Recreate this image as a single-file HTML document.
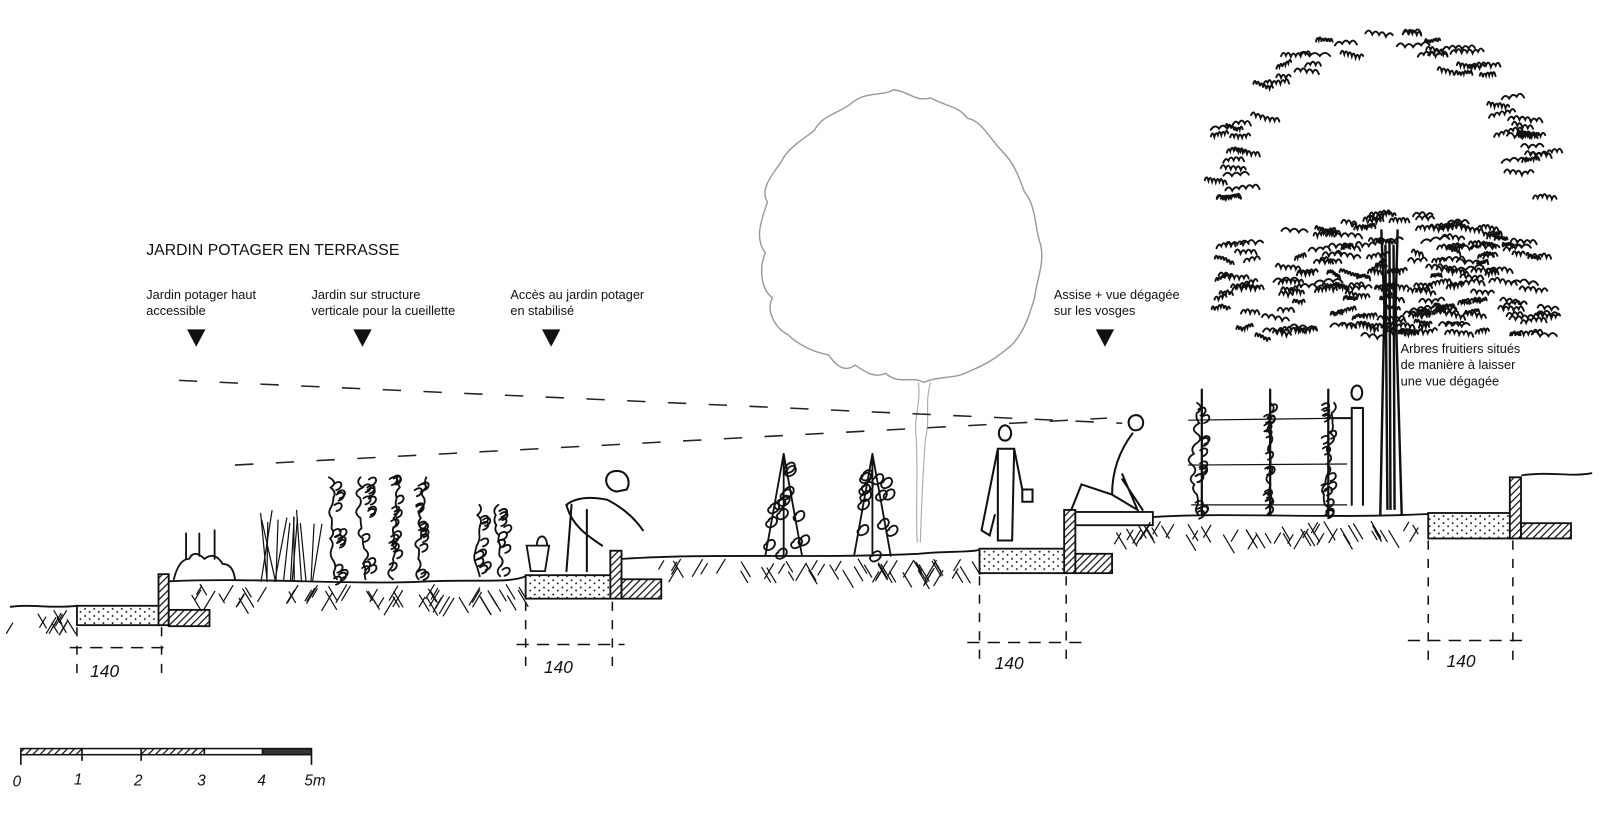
<!DOCTYPE html>
<html><head><meta charset="utf-8"><style>
html,body{margin:0;padding:0;background:#fff;width:1600px;height:822px;overflow:hidden}
svg{display:block}
text{font-family:"Liberation Sans",Arial,sans-serif;fill:#111}
.hand{font-family:"Liberation Sans",sans-serif;font-style:italic}
</style></head><body>
<svg id="s" width="1600" height="822" viewBox="0 0 1568 806" xmlns="http://www.w3.org/2000/svg">
<defs>
<pattern id="hatch" width="5" height="5" patternUnits="userSpaceOnUse" patternTransform="rotate(45)"><rect width="5" height="5" fill="#fff"/><line x1="0" y1="0" x2="0" y2="5" stroke="#111" stroke-width="2.4"/></pattern>
<pattern id="dots" width="9" height="7" patternUnits="userSpaceOnUse"><rect width="9" height="7" fill="#fff"/><circle cx="2" cy="2" r="0.9" fill="#111"/><circle cx="6.5" cy="5" r="0.9" fill="#111"/></pattern>
</defs>
<g id="ground" fill="none" stroke="#111" stroke-width="1.8" stroke-linecap="round"></g>

<!-- grey tree -->
<path d="M905,375 C895,368 880,378 868,366 C855,372 845,362 838,358 C825,368 815,352 812,348 C795,345 780,336 772,328 C760,322 750,305 757,292 C745,283 744,262 750,248 C738,232 748,212 752,198 C744,185 758,170 766,158 C772,145 788,136 798,128 C806,112 822,112 836,100 C848,90 866,94 876,88 C892,90 896,100 912,96 C926,104 940,104 948,116 C962,118 970,136 982,148 C994,160 998,172 1004,188 C1016,202 1014,224 1020,240 C1024,258 1016,275 1014,292 C1008,312 1004,324 992,338 C980,348 970,356 950,364 C936,372 922,368 905,375 Z" fill="none" stroke="#999" stroke-width="1.4"/>
<path d="M900,375 C903,395 895,410 898,430 C900,470 897,500 899,532 M912,375 C906,395 912,410 907,430 C904,470 903,500 902,532" fill="none" stroke="#aaa" stroke-width="1.1"/>

<line x1="175" y1="373" x2="1100" y2="415" stroke="#222" stroke-width="1.5" stroke-dasharray="18,22"/>
<line x1="230" y1="456" x2="1085" y2="410" stroke="#222" stroke-width="1.5" stroke-dasharray="18,22"/>

<path d="M1354,225 L1357,300 L1355,400 L1353,505 M1370,225 L1368,300 L1371,400 L1374,505 M1362,235 L1363,500 M1358,240 L1360,500 M1366,240 L1367,500" fill="none" stroke="#111" stroke-width="2.4"/>
<g id="fol" fill="none" stroke="#111" stroke-width="1.9" stroke-linecap="round"></g>
<g id="pl" fill="none" stroke="#111" stroke-width="1.8" stroke-linecap="round"></g>

<text x="143" y="250" font-size="15.5">JARDIN POTAGER EN TERRASSE</text>
<text x="143" y="293" font-size="12.5">Jardin potager haut</text>
<text x="143" y="309" font-size="12.5">accessible</text>
<text x="305" y="293" font-size="12.5">Jardin sur structure</text>
<text x="305" y="309" font-size="12.5">verticale pour la cueillette</text>
<text x="500" y="293" font-size="12.5">Accès au jardin potager</text>
<text x="500" y="309" font-size="12.5">en stabilisé</text>
<text x="1033" y="293" font-size="12.5">Assise + vue dégagée</text>
<text x="1033" y="309" font-size="12.5">sur les vosges</text>
<text x="1373" y="346" font-size="12.5">Arbres fruitiers situés</text>
<text x="1373" y="362" font-size="12.5">de manière à laisser</text>
<text x="1373" y="378" font-size="12.5">une vue dégagée</text>
<g fill="#111">
<polygon points="183,323 201,323 192,340"/>
<polygon points="346,323 364,323 355,340"/>
<polygon points="531,323 549,323 540,340"/>
<polygon points="1074,323 1092,323 1083,340"/>
</g>

<g stroke="#111" stroke-width="1.5" fill="none">
<line x1="75" y1="615" x2="75" y2="668" stroke-dasharray="9,9"/><line x1="158" y1="615" x2="158" y2="660" stroke-dasharray="9,9"/>
<line x1="68" y1="635" x2="165" y2="635" stroke-dasharray="12,8"/>
<line x1="515" y1="590" x2="515" y2="660" stroke-dasharray="9,9"/><line x1="600" y1="590" x2="600" y2="660" stroke-dasharray="9,9"/>
<line x1="506" y1="632" x2="612" y2="632" stroke-dasharray="12,8"/>
<line x1="960" y1="565" x2="960" y2="655" stroke-dasharray="9,9"/><line x1="1045" y1="565" x2="1045" y2="655" stroke-dasharray="9,9"/>
<line x1="948" y1="630" x2="1060" y2="630" stroke-dasharray="12,8"/>
<line x1="1400" y1="530" x2="1400" y2="650" stroke-dasharray="9,9"/><line x1="1483" y1="530" x2="1483" y2="650" stroke-dasharray="9,9"/>
<line x1="1380" y1="628" x2="1498" y2="628" stroke-dasharray="12,8"/>
</g>
<text class="hand" x="88" y="664" font-size="17">140</text>
<text class="hand" x="533" y="660" font-size="17">140</text>
<text class="hand" x="975" y="656" font-size="17">140</text>
<text class="hand" x="1418" y="654" font-size="17">140</text>

<rect x="20" y="734" width="60" height="6" fill="url(#hatch)" stroke="#111" stroke-width="1.5"/>
<rect x="80" y="734" width="58" height="6" fill="#fff" stroke="#111" stroke-width="1.5"/>
<rect x="138" y="734" width="62" height="6" fill="url(#hatch)" stroke="#111" stroke-width="1.5"/>
<rect x="200" y="734" width="57" height="6" fill="#fff" stroke="#111" stroke-width="1.5"/>
<rect x="257" y="734" width="48" height="6" fill="#333" stroke="#111" stroke-width="1.5"/>
<g stroke="#111" stroke-width="1.6"><line x1="20" y1="740" x2="20" y2="750"/><line x1="80" y1="740" x2="80" y2="746"/><line x1="138" y1="740" x2="138" y2="746"/><line x1="305" y1="740" x2="305" y2="750"/></g>
<g class="hand" font-size="15"><text x="12" y="771">0</text><text x="72" y="769">1</text><text x="131" y="770">2</text><text x="193" y="770">3</text><text x="252" y="770">4</text><text x="298" y="770">5m</text></g>
</svg>
<script>
var NS="http://www.w3.org/2000/svg";
var seed=7;function r(){seed=(seed*16807)%2147483647;return seed/2147483647;}
function P(g,d,extra){var p=document.createElementNS(NS,"path");p.setAttribute("d",d);if(extra)for(var k in extra)p.setAttribute(k,extra[k]);document.getElementById(g).appendChild(p);return p;}
function R(x,y,w,h,fill){var e=document.createElementNS(NS,"rect");e.setAttribute("x",x);e.setAttribute("y",y);e.setAttribute("width",w);e.setAttribute("height",h);e.setAttribute("fill",fill);e.setAttribute("stroke","#111");e.setAttribute("stroke-width","1.8");document.getElementById("ground").appendChild(e);}
P("ground","M10,595 C30,592 50,597 75,594");
P("ground","M165,570 C250,566 350,574 420,570 C470,568 500,572 515,565");
P("ground","M610,548 C700,542 800,548 900,543 C930,540 950,542 960,539");
P("ground","M1130,507 C1200,502 1300,509 1400,504");
P("ground","M1492,466 C1520,462 1540,468 1560,464");
R(75,594,83,19,"url(#dots)");R(155,563,10,50,"url(#hatch)");R(165,598,40,16,"url(#hatch)");
R(515,564,85,23,"url(#dots)");R(598,540,11,47,"url(#hatch)");R(609,568,39,19,"url(#hatch)");
R(960,538,85,24,"url(#dots)");R(1043,500,11,62,"url(#hatch)");R(1054,543,36,19,"url(#hatch)");
R(1054,502,76,13,"#fff");
R(1400,503,83,25,"url(#dots)");R(1480,468,11,60,"url(#hatch)");R(1491,513,49,15,"url(#hatch)");
function hatch(x0,x1,y,n){for(var i=0;i<n;i++){var x=x0+r()*(x1-x0),yy=y+3+r()*14,a=r()<0.5?-1:1,l=8+r()*10;P("ground","M"+x.toFixed(1)+","+yy.toFixed(1)+" l"+(a*l*0.6).toFixed(1)+","+(l).toFixed(1),{"stroke-width":"1.2"});}}
hatch(12,70,595,14);hatch(170,510,570,60);hatch(650,955,545,55);hatch(1090,1395,508,55);
function scrib(x,y,w){var d="M"+x.toFixed(1)+","+y.toFixed(1);var n=3+Math.floor(r()*4);for(var i=0;i<n;i++){d+=" q"+(w/n/2).toFixed(1)+","+(-6).toFixed(1)+" "+(w/n).toFixed(1)+","+(r()*4-2).toFixed(1);}P("fol",d);}
for(var i=0;i<60;i++){var t=Math.PI*(0.95+r()*1.1),rx=165*(0.8+r()*0.2),ry=150*(0.8+r()*0.2);var x=1340+Math.cos(t)*rx,y=175+Math.sin(t)*ry;if(y>330)continue;scrib(x,y,14+r()*20);}
for(var i=0;i<260;i++){var x=1180+r()*330,y=205+r()*125;var dx=(x-1355)/170;if(Math.abs(dx)>1)continue;if(y<205+Math.abs(dx)*35)continue;if(x<1290&&r()<0.45)continue;scrib(x,y,10+r()*18);}
function vine(x,yb,h){var d="M"+x+","+yb;for(var y=yb;y>yb-h;y-=10){d+=" q"+(r()*16-8).toFixed(1)+",-5 "+(r()*6-3).toFixed(1)+",-10";}P("pl",d);for(var k=0;k<h/8;k++){var yy=yb-r()*h;P("pl","M"+(x+r()*8-4).toFixed(1)+","+yy.toFixed(1)+" c8,-6 10,4 2,6");}}
[330,358,385,410].forEach(function(x){vine(x,568,100);});
[470,490].forEach(function(x){vine(x,565,65);});
for(var i=0;i<14;i++){var x=250+i*4;P("pl","M"+(x+r()*8)+",570 L"+(x-10+r()*30).toFixed(1)+","+(500+r()*15).toFixed(1),{"stroke-width":"1.2"});}
P("pl","M170,568 q5,-20 15,-20 q5,-10 15,0 q10,-8 18,5 q10,0 12,15");
P("pl","M182,548 l0,-25 M195,545 l0,-22 M210,548 l0,-28");
function tri(x,yb,h){P("pl","M"+(x-18)+","+yb+" L"+x+","+(yb-h)+" L"+(x+18)+","+yb+" M"+x+","+yb+" L"+x+","+(yb-h));for(var k=0;k<14;k++){var yy=yb-r()*h*0.9,xx=x+(r()*34-17);P("pl","M"+xx.toFixed(1)+","+yy.toFixed(1)+" c8,-8 12,4 3,7 c-5,2 -8,-4 -3,-6");}}
tri(768,545,100);tri(855,545,100);
[1178,1245,1302].forEach(function(x){P("pl","M"+x+",505 L"+x+",382",{"stroke-width":"2.2"});vine(x-3,505,110);});
P("pl","M1165,412 L1320,410 M1165,456 L1320,455 M1168,495 L1320,495",{"stroke-width":"1.2"});
P("pl","M590,535 c-15,-10 -30,-20 -35,-40 c10,-8 25,-8 40,-5 c10,5 25,15 35,30 M560,495 l-5,65 M575,500 l0,60 M604,482 c-12,-2 -14,-18 -2,-20 c12,-2 17,10 12,18 z",{"stroke-width":"2"});
P("pl","M520,560 l-4,-25 l22,0 l-4,25 z M526,535 c0,-12 10,-12 10,0");
P("pl","M985,432 c-8,0 -8,-14 0,-15 c8,1 8,15 0,15 M978,440 l-8,40 M994,440 l8,40 M978,440 l16,0 l-2,90 l-14,0 z M970,480 l-8,40 l8,5 l5,-20 M1002,480 l0,12 l10,0 l0,-12 z",{"stroke-width":"2"});
P("pl","M1113,422 c-8,0 -10,-14 0,-15 c10,0 10,15 0,15 M1110,425 c-15,20 -20,40 -20,60 l-30,-10 l-10,25 M1090,485 l25,15 l-15,-35 M1100,470 l20,30",{"stroke-width":"2"});
P("pl","M1330,392 c-7,0 -7,-13 0,-14 c7,0 7,14 0,14 M1325,400 l0,95 M1336,400 l0,95 M1325,400 l11,0 M1300,410 l25,0",{"stroke-width":"2"});
</script>
</body></html>
